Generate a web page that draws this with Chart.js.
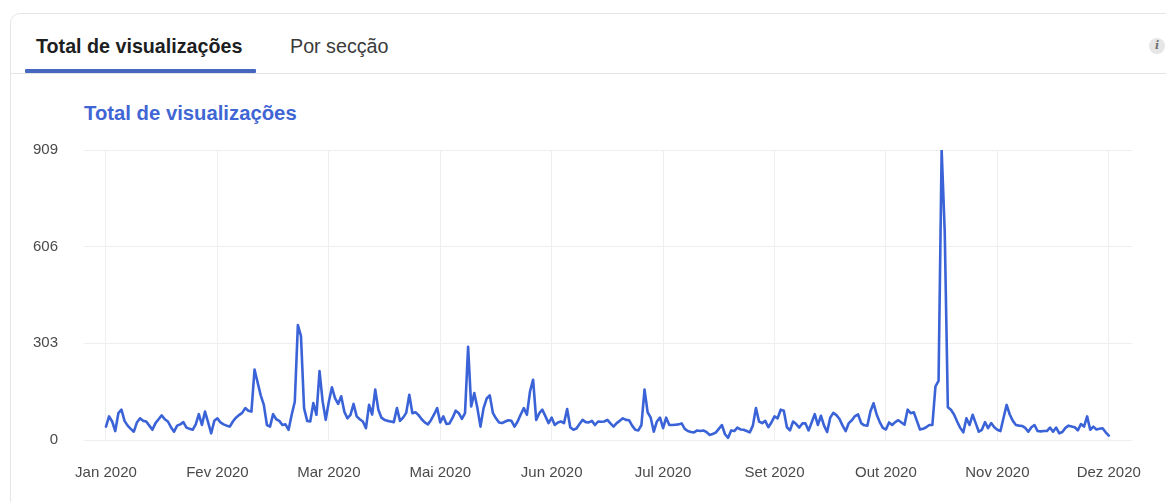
<!DOCTYPE html>
<html lang="pt">
<head>
<meta charset="utf-8">
<title>Total de visualizações</title>
<script src="https://cdn.jsdelivr.net/npm/chart.js@4.4.1/dist/chart.umd.min.js"></script>
<style>
  html, body { margin: 0; padding: 0; background: #ffffff; }
  body { width: 1166px; height: 502px; position: relative; overflow: hidden;
         font-family: "Liberation Sans", Arial, Helvetica, sans-serif; }
  .card { position: absolute; left: 10px; top: 13px; width: 1240px; height: 560px;
          border: 1px solid #e6e6e6; border-radius: 10px; box-sizing: border-box; }
  .tab { position: absolute; top: 33px; font-size: 19.7px; line-height: 26px; white-space: nowrap; }
  .tab.active { left: 36px; font-weight: bold; color: #1c1e21; }
  .tab.other { left: 290px; color: #3a3a3a; }
  .tab-underline { position: absolute; left: 25px; top: 69px; width: 231px; height: 4px;
                   background: #4567c0; border-radius: 1px; }
  .tab-sep { position: absolute; left: 11px; top: 73px; width: 1160px; height: 1px; background: #e4e4e4; }
  .info { position: absolute; left: 1149px; top: 38px; width: 16px; height: 16px; border-radius: 50%;
          background: #e6e6e6; color: #6f6f6f; font: italic bold 11px "DejaVu Serif", serif;
          text-align: center; line-height: 16px; }
  .title { position: absolute; left: 84px; top: 100px; font-size: 20.3px; line-height: 26px;
           font-weight: bold; color: #3f66d4; white-space: nowrap; }
  #chart { position: absolute; left: 0; top: 0; }
</style>
</head>
<body>
<div class="card"></div>
<div class="tab active">Total de visualizações</div>
<div class="tab other">Por secção</div>
<div class="tab-underline"></div>
<div class="tab-sep"></div>
<div class="info">i</div>
<div class="title">Total de visualizações</div>
<canvas id="chart" width="1166" height="502"></canvas>
<script>
// Month labels shown under the axis (one every stepsPerLabel days)
const tickLabels = ['Jan 2020', 'Fev 2020', 'Mar 2020', 'Mai 2020', 'Jun 2020',
                    'Jul 2020', 'Set 2020', 'Out 2020', 'Nov 2020', 'Dez 2020'];
const stepsPerLabel = 36;
const yTicks = [0, 303, 606, 909];

// Daily views, one block per label interval
const viewsJan = [42,74,58,28,84,95,60,45,35,26,55,68,60,58,45,32,53,65,77,65,58,40,26,45,49,56,39,35,32,49,81,47,89,55,21,60];
const viewsFev = [68,55,49,45,42,58,70,78,85,100,92,89,221,180,140,110,47,42,81,65,60,47,49,32,79,120,360,326,100,60,58,116,79,216,121,63];
const viewsMar = [120,165,131,113,137,89,68,79,113,74,65,58,37,110,80,158,95,70,63,60,58,56,100,60,70,85,142,84,87,78,65,55,49,62,80,100];
const viewsMai = [55,74,50,52,70,92,84,66,84,292,105,147,100,42,100,130,140,85,68,55,53,58,62,60,42,58,80,100,79,152,189,63,84,95,74,53];
const viewsJun = [70,47,55,58,53,97,40,32,36,50,63,56,55,60,47,58,57,58,63,52,42,53,60,68,63,62,45,32,30,47,158,87,70,26,58,70];
const viewsJul = [37,70,47,47,48,49,52,35,28,25,24,30,28,30,25,16,19,23,35,47,18,7,30,28,39,33,32,28,24,45,100,58,53,60,40,55];
const viewsSet = [74,68,95,92,40,30,58,50,39,52,52,30,55,81,47,76,45,25,70,85,78,66,45,28,53,62,75,80,53,46,45,90,115,80,56,38];
const viewsOut = [33,55,47,56,62,55,48,95,84,87,60,33,35,40,47,47,168,185,909,650,103,95,80,58,38,24,68,47,79,53,26,32,56,37,53,40];
const viewsNov = [32,28,70,110,80,60,47,45,44,38,26,40,47,28,27,28,28,39,26,39,21,25,38,45,42,40,30,50,42,74,32,42,33,35,37,24,14];

const views = [].concat(viewsJan, viewsFev, viewsMar, viewsMai, viewsJun, viewsJul, viewsSet, viewsOut, viewsNov);
const points = views.map((v, i) => ({ x: i, y: v }));

const FONT = '"Liberation Sans", Arial, Helvetica, sans-serif';
const GRID = '#eeeeee';

new Chart(document.getElementById('chart'), {
  type: 'line',
  data: {
    datasets: [{
      data: points,
      borderColor: '#3b63d8',
      borderWidth: 2.6,
      pointRadius: 0,
      tension: 0,
      fill: false,
      borderJoinStyle: 'round',
      borderCapStyle: 'round'
    }]
  },
  options: {
    responsive: false,
    animation: false,
    devicePixelRatio: 1,
    layout: { padding: { top: 150, right: 34, left: 0, bottom: 0 } },
    plugins: { legend: { display: false }, tooltip: { enabled: false } },
    scales: {
      x: {
        type: 'linear',
        min: -7.1,
        max: 331.5,
        afterBuildTicks: (s) => { s.ticks = tickLabels.map((_, i) => ({ value: i * stepsPerLabel })); },
        afterFit: (s) => { s.height = 62; },
        border: { display: false },
        grid: { color: GRID, lineWidth: 1, drawTicks: false },
        ticks: {
          autoSkip: false, maxRotation: 0, padding: 24,
          color: '#4a4a4a', font: { family: FONT, size: 15 },
          callback: (v, i) => tickLabels[i]
        }
      },
      y: {
        min: 0,
        max: 909,
        afterBuildTicks: (s) => { s.ticks = yTicks.map(v => ({ value: v })); },
        afterFit: (s) => { s.width = 84; },
        border: { display: false },
        grid: { color: GRID, lineWidth: 1, drawTicks: false },
        ticks: {
          padding: 26, color: '#4a4a4a', font: { family: FONT, size: 15 },
          callback: (v) => String(v)
        }
      }
    }
  }
});
</script>
</body>
</html>
